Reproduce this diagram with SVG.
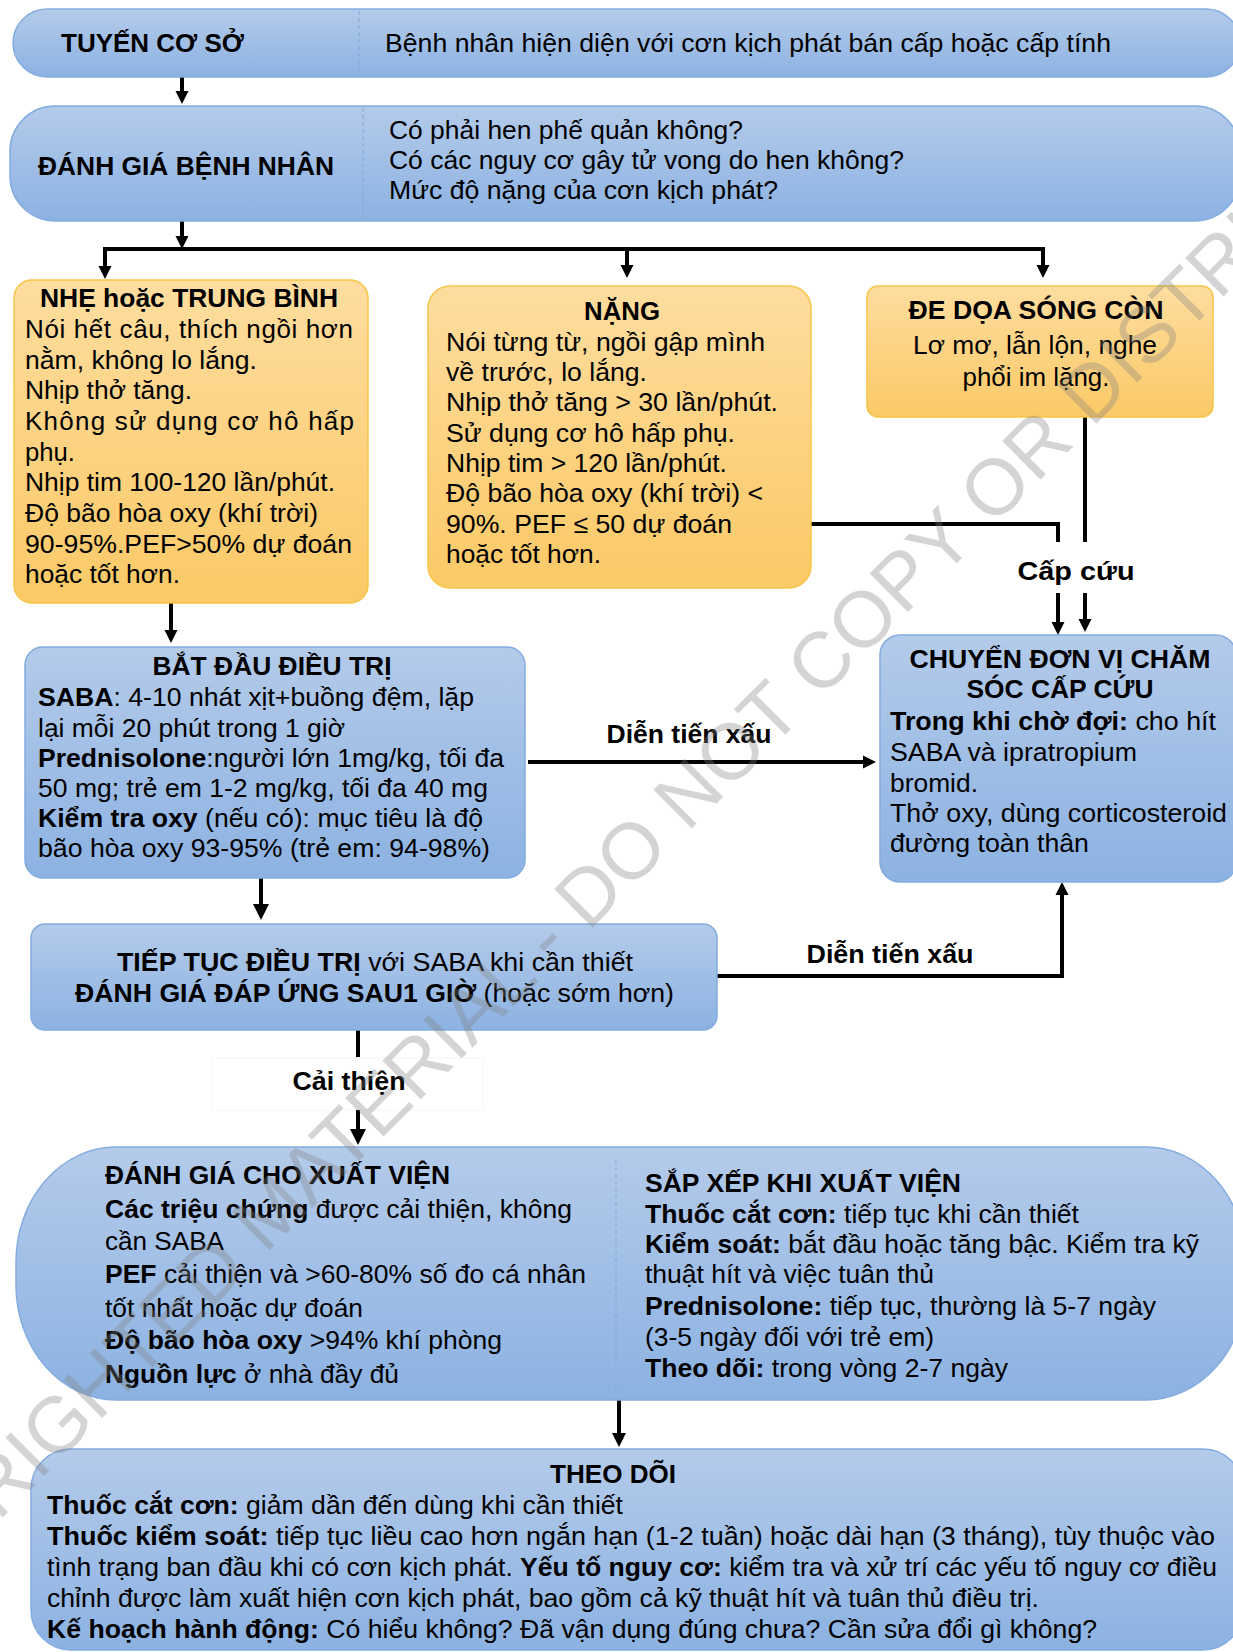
<svg xmlns="http://www.w3.org/2000/svg" width="1233" height="1652" viewBox="0 0 1233 1652">
<style>
text{font-family:"Liberation Sans",Arial,sans-serif;font-size:26px;fill:#000}
.b{font-weight:bold}
.c{text-anchor:middle}
.bl{fill:url(#gBlue);stroke:#83acdf;stroke-width:1.5}
.or{fill:url(#gOr);stroke:#f7c547;stroke-width:1.5}
.dv{stroke:#7ea7da;stroke-width:1;stroke-dasharray:4 3;fill:none}
.cn{fill:none;stroke:#000;stroke-width:4}
.wm{font-size:79px;fill:#808080;opacity:0.33}
</style>
<defs>
<linearGradient id="gBlue" x1="0" y1="0" x2="0" y2="1">
<stop offset="0" stop-color="#b4cbea"/>
<stop offset="1" stop-color="#8cb2e2"/>
</linearGradient>
<linearGradient id="gOr" x1="0" y1="0" x2="0" y2="1">
<stop offset="0" stop-color="#fedd9f"/>
<stop offset="1" stop-color="#fbc966"/>
</linearGradient>
<marker id="ah" viewBox="0 0 10 10" refX="5" refY="5" markerUnits="userSpaceOnUse" markerWidth="13" markerHeight="18" orient="auto">
<path d="M0,0L10,5L0,10z" fill="#000"/>
</marker>
<marker id="ahm" viewBox="0 0 10 10" refX="5" refY="5" markerUnits="userSpaceOnUse" markerWidth="14" markerHeight="24" orient="auto">
<path d="M0,0L10,5L0,10z" fill="#000"/>
</marker>
<marker id="ahb" viewBox="0 0 10 10" refX="5" refY="5" markerUnits="userSpaceOnUse" markerWidth="16" markerHeight="34" orient="auto">
<path d="M0,0L10,5L0,10z" fill="#000"/>
</marker>
</defs>
<rect width="1233" height="1652" fill="#fff"/>

<g id="connectors">
<path class="cn" d="M182,77V97.5" marker-end="url(#ah)"/>
<path class="cn" d="M182,221V242.5" marker-end="url(#ah)"/>
<path class="cn" d="M103,249H1045" stroke-width="4.5"/>
<path class="cn" d="M105,249V272.5" marker-end="url(#ah)"/>
<path class="cn" d="M627,249V271.5" marker-end="url(#ah)"/>
<path class="cn" d="M1043,249V271.5" marker-end="url(#ah)"/>
<path class="cn" d="M171,603V636.5" marker-end="url(#ah)"/>
<path class="cn" d="M811,524H1058V542" stroke-width="5"/>
<path class="cn" d="M1058,593V628.5" marker-end="url(#ah)"/>
<path class="cn" d="M1085,417V542"/>
<path class="cn" d="M1085,593V625.5" marker-end="url(#ah)"/>
<path class="cn" d="M528,762H869.5" marker-end="url(#ah)"/>
<path class="cn" d="M261,878V912" stroke-width="5" marker-end="url(#ahb)"/>
<path class="cn" d="M717,976H1062V888.5" marker-end="url(#ah)"/>
<path class="cn" d="M358,1030V1057"/>
<rect x="212" y="1058" width="271" height="52" fill="#fff" stroke="#f6f6f6" stroke-width="1"/>
<path class="cn" d="M358,1110V1137" stroke-width="5" marker-end="url(#ahb)"/>
<path class="cn" d="M619,1400V1440" marker-end="url(#ahm)"/>
<text class="b c" x="689" y="743" textLength="165" lengthAdjust="spacingAndGlyphs">Diễn tiến xấu</text>
<text class="b c" x="890" y="963" textLength="167" lengthAdjust="spacingAndGlyphs">Diễn tiến xấu</text>
<text class="b c" x="1076" y="580" textLength="117" lengthAdjust="spacingAndGlyphs">Cấp cứu</text>
<text class="b c" x="349" y="1090" textLength="113" lengthAdjust="spacingAndGlyphs">Cải thiện</text>
</g>

<g id="tuyen-co-so">
<rect class="bl" x="13" y="9" width="1227" height="68" rx="34"/>
<line class="dv" x1="359" y1="11" x2="359" y2="75"/>
<text class="b" x="61" y="52" textLength="183" lengthAdjust="spacingAndGlyphs">TUYẾN CƠ SỞ</text>
<text x="385" y="52" textLength="726" lengthAdjust="spacingAndGlyphs">Bệnh nhân hiện diện với cơn kịch phát bán cấp hoặc cấp tính</text>
</g>

<g id="danh-gia-benh-nhan">
<rect class="bl" x="10" y="106" width="1230" height="115" rx="45"/>
<line class="dv" x1="363" y1="108" x2="363" y2="219"/>
<text class="b" x="38" y="175" textLength="296" lengthAdjust="spacingAndGlyphs">ĐÁNH GIÁ BỆNH NHÂN</text>
<text x="389" y="139" textLength="354" lengthAdjust="spacingAndGlyphs">Có phải hen phế quản không?</text>
<text x="389" y="169" textLength="515" lengthAdjust="spacingAndGlyphs">Có các nguy cơ gây tử vong do hen không?</text>
<text x="389" y="199" textLength="389" lengthAdjust="spacingAndGlyphs">Mức độ nặng của cơn kịch phát?</text>
</g>

<g id="nhe-trung-binh">
<rect class="or" x="14" y="280" width="354" height="323" rx="18"/>
<text class="b c" x="189" y="307" textLength="298" lengthAdjust="spacingAndGlyphs">NHẸ hoặc TRUNG BÌNH</text>
<text x="25" y="338" textLength="328">Nói hết câu, thích ngồi hơn</text>
<text x="25" y="369" textLength="232" lengthAdjust="spacingAndGlyphs">nằm, không lo lắng.</text>
<text x="25" y="399" textLength="167" lengthAdjust="spacingAndGlyphs">Nhịp thở tăng.</text>
<text x="25" y="430" textLength="329">Không sử dụng cơ hô hấp</text>
<text x="25" y="461" textLength="50" lengthAdjust="spacingAndGlyphs">phụ.</text>
<text x="25" y="491" textLength="310" lengthAdjust="spacingAndGlyphs">Nhịp tim 100-120 lần/phút.</text>
<text x="25" y="522" textLength="293" lengthAdjust="spacingAndGlyphs">Độ bão hòa oxy (khí trời)</text>
<text x="25" y="553" textLength="327" lengthAdjust="spacingAndGlyphs">90-95%.PEF&gt;50% dự đoán</text>
<text x="25" y="583" textLength="155" lengthAdjust="spacingAndGlyphs">hoặc tốt hơn.</text>
</g>

<g id="nang">
<rect class="or" x="428" y="286" width="383" height="302" rx="22"/>
<text class="b c" x="622" y="320" textLength="76" lengthAdjust="spacingAndGlyphs">NẶNG</text>
<text x="446" y="351" textLength="319" lengthAdjust="spacingAndGlyphs">Nói từng từ, ngồi gập mình</text>
<text x="446" y="381" textLength="201" lengthAdjust="spacingAndGlyphs">về trước, lo lắng.</text>
<text x="446" y="411" textLength="332" lengthAdjust="spacingAndGlyphs">Nhịp thở tăng &gt; 30 lần/phút.</text>
<text x="446" y="442" textLength="289" lengthAdjust="spacingAndGlyphs">Sử dụng cơ hô hấp phụ.</text>
<text x="446" y="472" textLength="281" lengthAdjust="spacingAndGlyphs">Nhịp tim &gt; 120 lần/phút.</text>
<text x="446" y="502" textLength="317" lengthAdjust="spacingAndGlyphs">Độ bão hòa oxy (khí trời) &lt;</text>
<text x="446" y="533" textLength="286" lengthAdjust="spacingAndGlyphs">90%. PEF ≤ 50 dự đoán</text>
<text x="446" y="563" textLength="155" lengthAdjust="spacingAndGlyphs">hoặc tốt hơn.</text>
</g>

<g id="de-doa-song-con">
<rect class="or" x="867" y="286" width="346" height="131" rx="11"/>
<text class="b c" x="1036" y="319" textLength="255" lengthAdjust="spacingAndGlyphs">ĐE DỌA SÓNG CÒN</text>
<text class="c" x="1035" y="354" textLength="244" lengthAdjust="spacingAndGlyphs">Lơ mơ, lẫn lộn, nghe</text>
<text class="c" x="1036" y="386" textLength="147" lengthAdjust="spacingAndGlyphs">phổi im lặng.</text>
</g>

<g id="bat-dau-dieu-tri">
<rect class="bl" x="25" y="647" width="500" height="231" rx="18"/>
<text class="b c" x="272" y="675" textLength="239" lengthAdjust="spacingAndGlyphs">BẮT ĐẦU ĐIỀU TRỊ</text>
<text x="38" y="706" textLength="436" lengthAdjust="spacingAndGlyphs"><tspan class="b">SABA</tspan>: 4-10 nhát xịt+buồng đệm, lặp</text>
<text x="38" y="737" textLength="307" lengthAdjust="spacingAndGlyphs">lại mỗi 20 phút trong 1 giờ</text>
<text x="38" y="767" textLength="466" lengthAdjust="spacingAndGlyphs"><tspan class="b">Prednisolone</tspan>:người lớn 1mg/kg, tối đa</text>
<text x="38" y="797" textLength="450" lengthAdjust="spacingAndGlyphs">50 mg; trẻ em 1-2 mg/kg, tối đa 40 mg</text>
<text x="38" y="827" textLength="445" lengthAdjust="spacingAndGlyphs"><tspan class="b">Kiểm tra oxy</tspan> (nếu có): mục tiêu là độ</text>
<text x="38" y="857" textLength="452" lengthAdjust="spacingAndGlyphs">bão hòa oxy 93-95% (trẻ em: 94-98%)</text>
</g>

<g id="chuyen-don-vi">
<rect class="bl" x="880" y="635" width="356" height="247" rx="20"/>
<text class="b c" x="1060" y="668" textLength="301" lengthAdjust="spacingAndGlyphs">CHUYỂN ĐƠN VỊ CHĂM</text>
<text class="b c" x="1060" y="698" textLength="187" lengthAdjust="spacingAndGlyphs">SÓC CẤP CỨU</text>
<text x="890" y="730" textLength="326" lengthAdjust="spacingAndGlyphs"><tspan class="b">Trong khi chờ đợi:</tspan> cho hít</text>
<text x="890" y="761" textLength="247" lengthAdjust="spacingAndGlyphs">SABA và ipratropium</text>
<text x="890" y="792" textLength="88" lengthAdjust="spacingAndGlyphs">bromid.</text>
<text x="890" y="822" textLength="337" lengthAdjust="spacingAndGlyphs">Thở oxy, dùng corticosteroid</text>
<text x="890" y="852" textLength="199" lengthAdjust="spacingAndGlyphs">đường toàn thân</text>
</g>

<g id="tiep-tuc-dieu-tri">
<rect class="bl" x="31" y="924" width="686" height="106" rx="14"/>
<text x="117" y="971" textLength="516" lengthAdjust="spacingAndGlyphs"><tspan class="b">TIẾP TỤC ĐIỀU TRỊ</tspan> với SABA khi cần thiết</text>
<text x="75" y="1002" textLength="599" lengthAdjust="spacingAndGlyphs"><tspan class="b">ĐÁNH GIÁ ĐÁP ỨNG SAU1 GIỜ</tspan> (hoặc sớm hơn)</text>
</g>

<g id="xuat-vien">
<rect class="bl" x="16" y="1147" width="1230" height="253" rx="100" ry="115"/>
<line class="dv" x1="616" y1="1160" x2="616" y2="1399"/>
<text class="b" x="105" y="1184" textLength="345" lengthAdjust="spacingAndGlyphs">ĐÁNH GIÁ CHO XUẤT VIỆN</text>
<text x="105" y="1218" textLength="467" lengthAdjust="spacingAndGlyphs"><tspan class="b">Các triệu chứng</tspan> được cải thiện, không</text>
<text x="105" y="1250" textLength="119" lengthAdjust="spacingAndGlyphs">cần SABA</text>
<text x="105" y="1283" textLength="481" lengthAdjust="spacingAndGlyphs"><tspan class="b">PEF</tspan> cải thiện và &gt;60-80% số đo cá nhân</text>
<text x="105" y="1317" textLength="258" lengthAdjust="spacingAndGlyphs">tốt nhất hoặc dự đoán</text>
<text x="105" y="1349" textLength="397" lengthAdjust="spacingAndGlyphs"><tspan class="b">Độ bão hòa oxy</tspan> &gt;94% khí phòng</text>
<text x="105" y="1383" textLength="294" lengthAdjust="spacingAndGlyphs"><tspan class="b">Nguồn lực</tspan> ở nhà đầy đủ</text>
<text class="b" x="645" y="1192" textLength="316" lengthAdjust="spacingAndGlyphs">SẮP XẾP KHI XUẤT VIỆN</text>
<text x="645" y="1223" textLength="434" lengthAdjust="spacingAndGlyphs"><tspan class="b">Thuốc cắt cơn:</tspan> tiếp tục khi cần thiết</text>
<text x="645" y="1253" textLength="554" lengthAdjust="spacingAndGlyphs"><tspan class="b">Kiểm soát:</tspan> bắt đầu hoặc tăng bậc. Kiểm tra kỹ</text>
<text x="645" y="1283" textLength="289" lengthAdjust="spacingAndGlyphs">thuật hít và việc tuân thủ</text>
<text x="645" y="1315" textLength="511" lengthAdjust="spacingAndGlyphs"><tspan class="b">Prednisolone:</tspan> tiếp tục, thường là 5-7 ngày</text>
<text x="645" y="1346" textLength="289" lengthAdjust="spacingAndGlyphs">(3-5 ngày đối với trẻ em)</text>
<text x="645" y="1377" textLength="363" lengthAdjust="spacingAndGlyphs"><tspan class="b">Theo dõi:</tspan> trong vòng 2-7 ngày</text>
</g>

<g id="theo-doi">
<rect class="bl" x="31" y="1449" width="1212" height="201" rx="40"/>
<text class="b c" x="613" y="1483" textLength="126" lengthAdjust="spacingAndGlyphs">THEO DÕI</text>
<text x="47" y="1514" textLength="576" lengthAdjust="spacingAndGlyphs"><tspan class="b">Thuốc cắt cơn:</tspan> giảm dần đến dùng khi cần thiết</text>
<text x="47" y="1545" textLength="1168" lengthAdjust="spacingAndGlyphs"><tspan class="b">Thuốc kiểm soát:</tspan> tiếp tục liều cao hơn ngắn hạn (1-2 tuần) hoặc dài hạn (3 tháng), tùy thuộc vào</text>
<text x="47" y="1576" textLength="1170" lengthAdjust="spacingAndGlyphs">tình trạng ban đầu khi có cơn kịch phát. <tspan class="b">Yếu tố nguy cơ:</tspan> kiểm tra và xử trí các yếu tố nguy cơ điều</text>
<text x="47" y="1607" textLength="992" lengthAdjust="spacingAndGlyphs">chỉnh được làm xuất hiện cơn kịch phát, bao gồm cả kỹ thuật hít và tuân thủ điều trị.</text>
<text x="47" y="1638" textLength="1050" lengthAdjust="spacingAndGlyphs"><tspan class="b">Kế hoạch hành động:</tspan> Có hiểu không? Đã vận dụng đúng chưa? Cần sửa đổi gì không?</text>
</g>

<g id="watermark">
<text class="wm" transform="translate(-160,1680) rotate(-45)">COPYRIGHTED MATERIAL - DO NOT COPY OR DISTRIBUTE</text>
</g>
</svg>
